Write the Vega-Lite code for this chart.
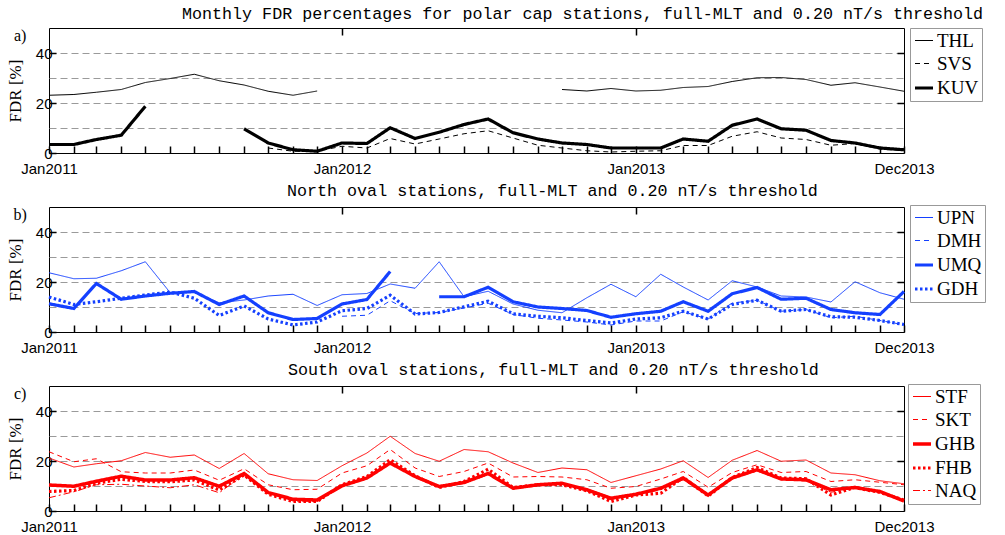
{
"$schema": "https://vega.github.io/schema/vega-lite/v6.json",
"background": "white",
"padding": {"left": 5, "top": 5, "right": 5, "bottom": 5},
"bounds": "flush",
"spacing": 54,
"datasets": {
"a": [
{"s":"THL","t":"2011-01-01","v":23.1},{"s":"THL","t":"2011-02-01","v":23.4},{"s":"THL","t":"2011-03-01","v":24.3},{"s":"THL","t":"2011-04-01","v":25.4},{"s":"THL","t":"2011-05-01","v":28.2},{"s":"THL","t":"2011-06-01","v":29.8},{"s":"THL","t":"2011-07-01","v":31.5},{"s":"THL","t":"2011-08-01","v":28.9},{"s":"THL","t":"2011-09-01","v":27.2},{"s":"THL","t":"2011-10-01","v":24.7},{"s":"THL","t":"2011-11-01","v":23.1},{"s":"THL","t":"2011-12-01","v":24.8},
{"s":"THL","t":"2012-01-01","v":null},{"s":"THL","t":"2012-02-01","v":null},{"s":"THL","t":"2012-03-01","v":null},{"s":"THL","t":"2012-04-01","v":null},{"s":"THL","t":"2012-05-01","v":null},{"s":"THL","t":"2012-06-01","v":null},{"s":"THL","t":"2012-07-01","v":null},{"s":"THL","t":"2012-08-01","v":null},{"s":"THL","t":"2012-09-01","v":null},{"s":"THL","t":"2012-10-01","v":25.4},{"s":"THL","t":"2012-11-01","v":24.8},{"s":"THL","t":"2012-12-01","v":25.8},
{"s":"THL","t":"2013-01-01","v":24.8},{"s":"THL","t":"2013-02-01","v":25.1},{"s":"THL","t":"2013-03-01","v":26.2},{"s":"THL","t":"2013-04-01","v":26.6},{"s":"THL","t":"2013-05-01","v":28.6},{"s":"THL","t":"2013-06-01","v":30.1},{"s":"THL","t":"2013-07-01","v":30.2},{"s":"THL","t":"2013-08-01","v":29.4},{"s":"THL","t":"2013-09-01","v":27.1},{"s":"THL","t":"2013-10-01","v":28.1},{"s":"THL","t":"2013-11-01","v":26.4},{"s":"THL","t":"2013-12-01","v":24.7},
{"s":"SVS","t":"2011-10-01","v":2.0},{"s":"SVS","t":"2011-11-01","v":0.7},{"s":"SVS","t":"2011-12-01","v":0.7},
{"s":"SVS","t":"2012-01-01","v":2.7},{"s":"SVS","t":"2012-02-01","v":2.0},{"s":"SVS","t":"2012-03-01","v":5.8},{"s":"SVS","t":"2012-04-01","v":3.6},{"s":"SVS","t":"2012-05-01","v":5.6},{"s":"SVS","t":"2012-06-01","v":7.7},{"s":"SVS","t":"2012-07-01","v":8.9},{"s":"SVS","t":"2012-08-01","v":6.0},{"s":"SVS","t":"2012-09-01","v":3.1},{"s":"SVS","t":"2012-10-01","v":2.0},{"s":"SVS","t":"2012-11-01","v":0.9},{"s":"SVS","t":"2012-12-01","v":0.4},
{"s":"SVS","t":"2013-01-01","v":0.7},{"s":"SVS","t":"2013-02-01","v":0.9},{"s":"SVS","t":"2013-03-01","v":3.0},{"s":"SVS","t":"2013-04-01","v":3.0},{"s":"SVS","t":"2013-05-01","v":6.7},{"s":"SVS","t":"2013-06-01","v":8.5},{"s":"SVS","t":"2013-07-01","v":6.0},{"s":"SVS","t":"2013-08-01","v":5.4},{"s":"SVS","t":"2013-09-01","v":3.1},{"s":"SVS","t":"2013-10-01","v":3.8},{"s":"SVS","t":"2013-11-01","v":1.6},{"s":"SVS","t":"2013-12-01","v":0.9},
{"s":"KUV","t":"2011-01-01","v":3.4},{"s":"KUV","t":"2011-02-01","v":3.4},{"s":"KUV","t":"2011-03-01","v":5.4},{"s":"KUV","t":"2011-04-01","v":7.1},{"s":"KUV","t":"2011-05-01","v":18.7},{"s":"KUV","t":"2011-06-01","v":null},{"s":"KUV","t":"2011-07-01","v":null},{"s":"KUV","t":"2011-08-01","v":null},{"s":"KUV","t":"2011-09-01","v":9.7},{"s":"KUV","t":"2011-10-01","v":4.0},{"s":"KUV","t":"2011-11-01","v":1.3},{"s":"KUV","t":"2011-12-01","v":0.7},
{"s":"KUV","t":"2012-01-01","v":4.0},{"s":"KUV","t":"2012-02-01","v":3.8},{"s":"KUV","t":"2012-03-01","v":10.1},{"s":"KUV","t":"2012-04-01","v":5.8},{"s":"KUV","t":"2012-05-01","v":8.3},{"s":"KUV","t":"2012-06-01","v":11.4},{"s":"KUV","t":"2012-07-01","v":13.6},{"s":"KUV","t":"2012-08-01","v":8.1},{"s":"KUV","t":"2012-09-01","v":5.6},{"s":"KUV","t":"2012-10-01","v":4.0},{"s":"KUV","t":"2012-11-01","v":3.4},{"s":"KUV","t":"2012-12-01","v":2.0},
{"s":"KUV","t":"2013-01-01","v":2.0},{"s":"KUV","t":"2013-02-01","v":2.0},{"s":"KUV","t":"2013-03-01","v":5.6},{"s":"KUV","t":"2013-04-01","v":4.7},{"s":"KUV","t":"2013-05-01","v":11.1},{"s":"KUV","t":"2013-06-01","v":13.6},{"s":"KUV","t":"2013-07-01","v":9.7},{"s":"KUV","t":"2013-08-01","v":9.1},{"s":"KUV","t":"2013-09-01","v":5.0},{"s":"KUV","t":"2013-10-01","v":4.0},{"s":"KUV","t":"2013-11-01","v":2.0},{"s":"KUV","t":"2013-12-01","v":1.3}
],
"b": [
{"s":"UPN","t":"2011-01-01","v":23.7},{"s":"UPN","t":"2011-02-01","v":21.3},{"s":"UPN","t":"2011-03-01","v":21.5},{"s":"UPN","t":"2011-04-01","v":24.5},{"s":"UPN","t":"2011-05-01","v":28.1},{"s":"UPN","t":"2011-06-01","v":15.7},{"s":"UPN","t":"2011-07-01","v":15.9},{"s":"UPN","t":"2011-08-01","v":11.7},{"s":"UPN","t":"2011-09-01","v":12.8},{"s":"UPN","t":"2011-10-01","v":14.4},{"s":"UPN","t":"2011-11-01","v":15.1},{"s":"UPN","t":"2011-12-01","v":10.6},
{"s":"UPN","t":"2012-01-01","v":14.9},{"s":"UPN","t":"2012-02-01","v":15.4},{"s":"UPN","t":"2012-03-01","v":19.2},{"s":"UPN","t":"2012-04-01","v":17.5},{"s":"UPN","t":"2012-05-01","v":28.1},{"s":"UPN","t":"2012-06-01","v":14.1},{"s":"UPN","t":"2012-07-01","v":16.3},{"s":"UPN","t":"2012-08-01","v":11.2},{"s":"UPN","t":"2012-09-01","v":8.7},{"s":"UPN","t":"2012-10-01","v":7.7},{"s":"UPN","t":"2012-11-01","v":13.7},{"s":"UPN","t":"2012-12-01","v":19.1},
{"s":"UPN","t":"2013-01-01","v":14.1},{"s":"UPN","t":"2013-02-01","v":23.1},{"s":"UPN","t":"2013-03-01","v":18.0},{"s":"UPN","t":"2013-04-01","v":12.8},{"s":"UPN","t":"2013-05-01","v":20.5},{"s":"UPN","t":"2013-06-01","v":18.0},{"s":"UPN","t":"2013-07-01","v":14.4},{"s":"UPN","t":"2013-08-01","v":14.0},{"s":"UPN","t":"2013-09-01","v":12.0},{"s":"UPN","t":"2013-10-01","v":20.1},{"s":"UPN","t":"2013-11-01","v":15.7},{"s":"UPN","t":"2013-12-01","v":13.1},
{"s":"DMH","t":"2012-01-01","v":6.3},{"s":"DMH","t":"2012-02-01","v":6.7},{"s":"DMH","t":"2012-03-01","v":12.5},{"s":"DMH","t":"2012-04-01","v":7.4},{"s":"DMH","t":"2012-05-01","v":7.8},{"s":"DMH","t":"2012-06-01","v":9.6},{"s":"DMH","t":"2012-07-01","v":11.5},{"s":"DMH","t":"2012-08-01","v":7.0},{"s":"DMH","t":"2012-09-01","v":5.5},{"s":"DMH","t":"2012-10-01","v":4.8},{"s":"DMH","t":"2012-11-01","v":4.0},{"s":"DMH","t":"2012-12-01","v":2.8},
{"s":"DMH","t":"2013-01-01","v":4.4},{"s":"DMH","t":"2013-02-01","v":4.4},{"s":"DMH","t":"2013-03-01","v":8.1},{"s":"DMH","t":"2013-04-01","v":5.2},{"s":"DMH","t":"2013-05-01","v":11.6},{"s":"DMH","t":"2013-06-01","v":12.7},{"s":"DMH","t":"2013-07-01","v":8.3},{"s":"DMH","t":"2013-08-01","v":9.0},{"s":"DMH","t":"2013-09-01","v":5.7},{"s":"DMH","t":"2013-10-01","v":6.3},{"s":"DMH","t":"2013-11-01","v":4.6},{"s":"DMH","t":"2013-12-01","v":2.9},
{"s":"UMQ","t":"2011-01-01","v":11.3},{"s":"UMQ","t":"2011-02-01","v":9.4},{"s":"UMQ","t":"2011-03-01","v":19.4},{"s":"UMQ","t":"2011-04-01","v":13.1},{"s":"UMQ","t":"2011-05-01","v":14.4},{"s":"UMQ","t":"2011-06-01","v":15.5},{"s":"UMQ","t":"2011-07-01","v":16.2},{"s":"UMQ","t":"2011-08-01","v":11.0},{"s":"UMQ","t":"2011-09-01","v":14.4},{"s":"UMQ","t":"2011-10-01","v":7.7},{"s":"UMQ","t":"2011-11-01","v":5.0},{"s":"UMQ","t":"2011-12-01","v":5.4},
{"s":"UMQ","t":"2012-01-01","v":11.2},{"s":"UMQ","t":"2012-02-01","v":13.0},{"s":"UMQ","t":"2012-03-01","v":24.2},{"s":"UMQ","t":"2012-04-01","v":null},{"s":"UMQ","t":"2012-05-01","v":14.1},{"s":"UMQ","t":"2012-06-01","v":14.1},{"s":"UMQ","t":"2012-07-01","v":17.9},{"s":"UMQ","t":"2012-08-01","v":12.1},{"s":"UMQ","t":"2012-09-01","v":10.0},{"s":"UMQ","t":"2012-10-01","v":9.4},{"s":"UMQ","t":"2012-11-01","v":8.6},{"s":"UMQ","t":"2012-12-01","v":5.9},
{"s":"UMQ","t":"2013-01-01","v":7.3},{"s":"UMQ","t":"2013-02-01","v":8.3},{"s":"UMQ","t":"2013-03-01","v":12.1},{"s":"UMQ","t":"2013-04-01","v":8.3},{"s":"UMQ","t":"2013-05-01","v":15.3},{"s":"UMQ","t":"2013-06-01","v":17.8},{"s":"UMQ","t":"2013-07-01","v":13.1},{"s":"UMQ","t":"2013-08-01","v":13.5},{"s":"UMQ","t":"2013-09-01","v":9.0},{"s":"UMQ","t":"2013-10-01","v":7.7},{"s":"UMQ","t":"2013-11-01","v":7.0},{"s":"UMQ","t":"2013-12-01","v":16.2},
{"s":"GDH","t":"2011-01-01","v":14.0},{"s":"GDH","t":"2011-02-01","v":11.0},{"s":"GDH","t":"2011-03-01","v":12.1},{"s":"GDH","t":"2011-04-01","v":13.5},{"s":"GDH","t":"2011-05-01","v":14.8},{"s":"GDH","t":"2011-06-01","v":16.0},{"s":"GDH","t":"2011-07-01","v":13.5},{"s":"GDH","t":"2011-08-01","v":6.6},{"s":"GDH","t":"2011-09-01","v":10.4},{"s":"GDH","t":"2011-10-01","v":5.2},{"s":"GDH","t":"2011-11-01","v":2.8},{"s":"GDH","t":"2011-12-01","v":4.0},
{"s":"GDH","t":"2012-01-01","v":8.5},{"s":"GDH","t":"2012-02-01","v":9.4},{"s":"GDH","t":"2012-03-01","v":14.7},{"s":"GDH","t":"2012-04-01","v":7.2},{"s":"GDH","t":"2012-05-01","v":7.8},{"s":"GDH","t":"2012-06-01","v":10.1},{"s":"GDH","t":"2012-07-01","v":12.3},{"s":"GDH","t":"2012-08-01","v":7.3},{"s":"GDH","t":"2012-09-01","v":6.3},{"s":"GDH","t":"2012-10-01","v":5.7},{"s":"GDH","t":"2012-11-01","v":4.6},{"s":"GDH","t":"2012-12-01","v":3.6},
{"s":"GDH","t":"2013-01-01","v":5.2},{"s":"GDH","t":"2013-02-01","v":5.7},{"s":"GDH","t":"2013-03-01","v":8.3},{"s":"GDH","t":"2013-04-01","v":5.2},{"s":"GDH","t":"2013-05-01","v":11.0},{"s":"GDH","t":"2013-06-01","v":12.7},{"s":"GDH","t":"2013-07-01","v":8.3},{"s":"GDH","t":"2013-08-01","v":9.0},{"s":"GDH","t":"2013-09-01","v":6.1},{"s":"GDH","t":"2013-10-01","v":5.9},{"s":"GDH","t":"2013-11-01","v":4.6},{"s":"GDH","t":"2013-12-01","v":3.0}
],
"c": [
{"s":"STF","t":"2011-01-01","v":21.2},{"s":"STF","t":"2011-02-01","v":17.6},{"s":"STF","t":"2011-03-01","v":18.9},{"s":"STF","t":"2011-04-01","v":20.1},{"s":"STF","t":"2011-05-01","v":23.4},{"s":"STF","t":"2011-06-01","v":21.5},{"s":"STF","t":"2011-07-01","v":22.4},{"s":"STF","t":"2011-08-01","v":17.0},{"s":"STF","t":"2011-09-01","v":23.0},{"s":"STF","t":"2011-10-01","v":14.9},{"s":"STF","t":"2011-11-01","v":12.5},{"s":"STF","t":"2011-12-01","v":12.2},
{"s":"STF","t":"2012-01-01","v":18.1},{"s":"STF","t":"2012-02-01","v":23.2},{"s":"STF","t":"2012-03-01","v":29.9},{"s":"STF","t":"2012-04-01","v":23.0},{"s":"STF","t":"2012-05-01","v":19.9},{"s":"STF","t":"2012-06-01","v":24.6},{"s":"STF","t":"2012-07-01","v":23.7},{"s":"STF","t":"2012-08-01","v":19.2},{"s":"STF","t":"2012-09-01","v":15.4},{"s":"STF","t":"2012-10-01","v":17.2},{"s":"STF","t":"2012-11-01","v":16.5},{"s":"STF","t":"2012-12-01","v":11.4},
{"s":"STF","t":"2013-01-01","v":14.1},{"s":"STF","t":"2013-02-01","v":16.8},{"s":"STF","t":"2013-03-01","v":20.1},{"s":"STF","t":"2013-04-01","v":13.4},{"s":"STF","t":"2013-05-01","v":20.3},{"s":"STF","t":"2013-06-01","v":24.2},{"s":"STF","t":"2013-07-01","v":19.9},{"s":"STF","t":"2013-08-01","v":20.4},{"s":"STF","t":"2013-09-01","v":15.2},{"s":"STF","t":"2013-10-01","v":14.5},{"s":"STF","t":"2013-11-01","v":12.1},{"s":"STF","t":"2013-12-01","v":10.9},
{"s":"SKT","t":"2011-01-01","v":23.7},{"s":"SKT","t":"2011-02-01","v":19.7},{"s":"SKT","t":"2011-03-01","v":20.9},{"s":"SKT","t":"2011-04-01","v":15.7},{"s":"SKT","t":"2011-05-01","v":15.2},{"s":"SKT","t":"2011-06-01","v":15.2},{"s":"SKT","t":"2011-07-01","v":16.4},{"s":"SKT","t":"2011-08-01","v":12.3},{"s":"SKT","t":"2011-09-01","v":16.9},{"s":"SKT","t":"2011-10-01","v":10.5},{"s":"SKT","t":"2011-11-01","v":8.5},{"s":"SKT","t":"2011-12-01","v":8.7},
{"s":"SKT","t":"2012-01-01","v":15.2},{"s":"SKT","t":"2012-02-01","v":18.1},{"s":"SKT","t":"2012-03-01","v":24.6},{"s":"SKT","t":"2012-04-01","v":17.2},{"s":"SKT","t":"2012-05-01","v":13.8},{"s":"SKT","t":"2012-06-01","v":15.8},{"s":"SKT","t":"2012-07-01","v":19.2},{"s":"SKT","t":"2012-08-01","v":13.6},{"s":"SKT","t":"2012-09-01","v":13.8},{"s":"SKT","t":"2012-10-01","v":13.6},{"s":"SKT","t":"2012-11-01","v":12.5},{"s":"SKT","t":"2012-12-01","v":9.1},
{"s":"SKT","t":"2013-01-01","v":9.8},{"s":"SKT","t":"2013-02-01","v":12.8},{"s":"SKT","t":"2013-03-01","v":15.8},{"s":"SKT","t":"2013-04-01","v":9.5},{"s":"SKT","t":"2013-05-01","v":15.4},{"s":"SKT","t":"2013-06-01","v":18.5},{"s":"SKT","t":"2013-07-01","v":15.4},{"s":"SKT","t":"2013-08-01","v":15.8},{"s":"SKT","t":"2013-09-01","v":11.8},{"s":"SKT","t":"2013-10-01","v":12.5},{"s":"SKT","t":"2013-11-01","v":11.5},{"s":"SKT","t":"2013-12-01","v":10.5},
{"s":"GHB","t":"2011-01-01","v":10.4},{"s":"GHB","t":"2011-02-01","v":9.9},{"s":"GHB","t":"2011-03-01","v":11.9},{"s":"GHB","t":"2011-04-01","v":13.9},{"s":"GHB","t":"2011-05-01","v":12.4},{"s":"GHB","t":"2011-06-01","v":12.4},{"s":"GHB","t":"2011-07-01","v":13.3},{"s":"GHB","t":"2011-08-01","v":9.9},{"s":"GHB","t":"2011-09-01","v":15.0},{"s":"GHB","t":"2011-10-01","v":7.4},{"s":"GHB","t":"2011-11-01","v":4.7},{"s":"GHB","t":"2011-12-01","v":4.4},
{"s":"GHB","t":"2012-01-01","v":10.1},{"s":"GHB","t":"2012-02-01","v":13.2},{"s":"GHB","t":"2012-03-01","v":19.2},{"s":"GHB","t":"2012-04-01","v":13.8},{"s":"GHB","t":"2012-05-01","v":9.8},{"s":"GHB","t":"2012-06-01","v":11.4},{"s":"GHB","t":"2012-07-01","v":15.0},{"s":"GHB","t":"2012-08-01","v":9.1},{"s":"GHB","t":"2012-09-01","v":10.5},{"s":"GHB","t":"2012-10-01","v":11.1},{"s":"GHB","t":"2012-11-01","v":8.5},{"s":"GHB","t":"2012-12-01","v":5.1},
{"s":"GHB","t":"2013-01-01","v":6.7},{"s":"GHB","t":"2013-02-01","v":9.1},{"s":"GHB","t":"2013-03-01","v":13.2},{"s":"GHB","t":"2013-04-01","v":6.4},{"s":"GHB","t":"2013-05-01","v":13.2},{"s":"GHB","t":"2013-06-01","v":16.5},{"s":"GHB","t":"2013-07-01","v":12.8},{"s":"GHB","t":"2013-08-01","v":12.5},{"s":"GHB","t":"2013-09-01","v":8.5},{"s":"GHB","t":"2013-10-01","v":9.4},{"s":"GHB","t":"2013-11-01","v":7.8},{"s":"GHB","t":"2013-12-01","v":4.0},
{"s":"FHB","t":"2011-01-01","v":7.8},{"s":"FHB","t":"2011-02-01","v":8.2},{"s":"FHB","t":"2011-03-01","v":11.1},{"s":"FHB","t":"2011-04-01","v":12.7},{"s":"FHB","t":"2011-05-01","v":11.8},{"s":"FHB","t":"2011-06-01","v":11.7},{"s":"FHB","t":"2011-07-01","v":12.4},{"s":"FHB","t":"2011-08-01","v":8.4},{"s":"FHB","t":"2011-09-01","v":14.4},{"s":"FHB","t":"2011-10-01","v":6.7},{"s":"FHB","t":"2011-11-01","v":3.8},{"s":"FHB","t":"2011-12-01","v":3.8},
{"s":"FHB","t":"2012-01-01","v":10.5},{"s":"FHB","t":"2012-02-01","v":13.8},{"s":"FHB","t":"2012-03-01","v":20.5},{"s":"FHB","t":"2012-04-01","v":14.1},{"s":"FHB","t":"2012-05-01","v":9.4},{"s":"FHB","t":"2012-06-01","v":11.8},{"s":"FHB","t":"2012-07-01","v":16.7},{"s":"FHB","t":"2012-08-01","v":9.4},{"s":"FHB","t":"2012-09-01","v":10.5},{"s":"FHB","t":"2012-10-01","v":10.5},{"s":"FHB","t":"2012-11-01","v":8.1},{"s":"FHB","t":"2012-12-01","v":3.8},
{"s":"FHB","t":"2013-01-01","v":6.4},{"s":"FHB","t":"2013-02-01","v":7.1},{"s":"FHB","t":"2013-03-01","v":13.4},{"s":"FHB","t":"2013-04-01","v":6.0},{"s":"FHB","t":"2013-05-01","v":13.4},{"s":"FHB","t":"2013-06-01","v":17.4},{"s":"FHB","t":"2013-07-01","v":13.2},{"s":"FHB","t":"2013-08-01","v":12.9},{"s":"FHB","t":"2013-09-01","v":6.4},{"s":"FHB","t":"2013-10-01","v":9.4},{"s":"FHB","t":"2013-11-01","v":7.4},{"s":"FHB","t":"2013-12-01","v":4.4},
{"s":"NAQ","t":"2011-01-01","v":5.3},{"s":"NAQ","t":"2011-02-01","v":7.7},{"s":"NAQ","t":"2011-03-01","v":10.5},{"s":"NAQ","t":"2011-04-01","v":10.7},{"s":"NAQ","t":"2011-05-01","v":10.0},{"s":"NAQ","t":"2011-06-01","v":9.3},{"s":"NAQ","t":"2011-07-01","v":10.5},{"s":"NAQ","t":"2011-08-01","v":7.3},{"s":"NAQ","t":"2011-09-01","v":14.6},{"s":"NAQ","t":"2011-10-01","v":7.4},{"s":"NAQ","t":"2011-11-01","v":4.0},{"s":"NAQ","t":"2011-12-01","v":3.8},
{"s":"NAQ","t":"2012-01-01","v":9.8},{"s":"NAQ","t":"2012-02-01","v":12.8},{"s":"NAQ","t":"2012-03-01","v":19.9},{"s":"NAQ","t":"2012-04-01","v":13.5},{"s":"NAQ","t":"2012-05-01","v":9.5},{"s":"NAQ","t":"2012-06-01","v":11.0},{"s":"NAQ","t":"2012-07-01","v":14.5},{"s":"NAQ","t":"2012-08-01","v":9.0},{"s":"NAQ","t":"2012-09-01","v":10.3},{"s":"NAQ","t":"2012-10-01","v":10.5},{"s":"NAQ","t":"2012-11-01","v":8.0},{"s":"NAQ","t":"2012-12-01","v":4.5},
{"s":"NAQ","t":"2013-01-01","v":6.5},{"s":"NAQ","t":"2013-02-01","v":8.5},{"s":"NAQ","t":"2013-03-01","v":12.5},{"s":"NAQ","t":"2013-04-01","v":6.2},{"s":"NAQ","t":"2013-05-01","v":12.8},{"s":"NAQ","t":"2013-06-01","v":16.0},{"s":"NAQ","t":"2013-07-01","v":12.5},{"s":"NAQ","t":"2013-08-01","v":12.0},{"s":"NAQ","t":"2013-09-01","v":7.5},{"s":"NAQ","t":"2013-10-01","v":9.3},{"s":"NAQ","t":"2013-11-01","v":7.6},{"s":"NAQ","t":"2013-12-01","v":4.2}
]
},
"vconcat": [
{
"data": {"name": "a"},
"width": 855, "height": 125,
"title": {"text": "Monthly FDR percentages for polar cap stations, full-MLT and 0.20 nT/s threshold", "dx": 133},
"layer": [
{"mark": {"type": "line"},
 "encoding": {
  "x": {"field": "t", "type": "temporal", "title": null, "scale": {"type": "utc", "domain": [{"year": 2011, "month": 1, "date": 1, "utc": true}, {"year": 2013, "month": 12, "date": 1, "utc": true}]},
   "axis": {"orient": "bottom", "offset": -7, "tickSize": 7, "tickColor": "#000000", "tickWidth": 1.5, "tickCount": {"interval": "month", "step": 1}, "labelExpr": "utcmonth(datum.value) == 0 || (utcyear(datum.value) == 2013 && utcmonth(datum.value) == 11) ? utcFormat(datum.value, '%b%Y') : ''", "labelOverlap": false, "labelFlush": false, "labelPadding": 8, "domain": false, "grid": false}},
  "y": {"field": "v", "type": "quantitative", "title": "FDR [%]", "scale": {"domain": [0, 50]},
   "axis": {"orient": "left", "tickSize": -7, "tickColor": "#000000", "tickWidth": 1.5, "values": [0, 10, 20, 30, 40], "labelExpr": "datum.value % 20 === 0 ? datum.label : ''", "labelPadding": 4, "domain": false, "grid": true, "gridColor": "#9a9a9a", "gridDash": [7, 4], "gridOpacity": {"condition": {"test": "datum.value === 0", "value": 0}, "value": 1}, "tickOpacity": {"condition": {"test": "datum.value % 20 !== 0", "value": 0}, "value": 1}, "titlePadding": 11}},
  "color": {"field": "s", "type": "nominal", "scale": {"domain": ["THL", "SVS", "KUV"], "range": ["black", "black", "black"]}, "legend": {"orient": "none", "legendX": 861, "legendY": 0, "title": null}},
  "strokeDash": {"field": "s", "type": "nominal", "scale": {"domain": ["THL", "SVS", "KUV"], "range": [[1, 0], [5, 4], [1, 0]]}, "legend": {"orient": "none", "legendX": 861, "legendY": 0, "title": null}},
  "strokeWidth": {"field": "s", "type": "nominal", "scale": {"type": "ordinal", "domain": ["THL", "SVS", "KUV"], "range": [1, 1, 3.2]}, "legend": {"orient": "none", "legendX": 861, "legendY": 0, "title": null}}
 }},
{"mark": {"type": "point", "opacity": 0},
 "encoding": {
  "x": {"field": "t", "type": "temporal", "title": null, "axis": {"orient": "top", "offset": -7, "tickSize": 7, "tickColor": "#000000", "tickWidth": 1.5, "values": [{"year": 2012, "month": 1, "date": 1, "utc": true}, {"year": 2013, "month": 1, "date": 1, "utc": true}], "labels": false, "domain": false, "grid": false}},
  "y": {"field": "v", "type": "quantitative", "title": null, "axis": {"orient": "right", "offset": -7, "tickSize": 7, "tickColor": "#000000", "tickWidth": 1.5, "values": [20, 40], "labels": false, "domain": false, "grid": false}}
 }},
{"data": {"values": [{"lab": "a)"}]},
 "mark": {"type": "text", "font": "Liberation Serif", "fontSize": 16, "align": "center", "baseline": "middle", "color": "black"},
 "encoding": {
  "x": {"datum": {"year": 2010, "month": 11, "date": 26, "utc": true}, "type": "temporal", "axis": null},
  "y": {"datum": 46.8, "type": "quantitative", "axis": null},
  "text": {"field": "lab"}
 }}
],
"resolve": {"axis": {"x": "independent", "y": "independent"}}
},
{
"data": {"name": "b"},
"width": 855, "height": 125,
"title": {"text": "North oval stations, full-MLT and 0.20 nT/s threshold", "dx": 238},
"layer": [
{"mark": {"type": "line"},
 "encoding": {
  "x": {"field": "t", "type": "temporal", "title": null, "scale": {"type": "utc", "domain": [{"year": 2011, "month": 1, "date": 1, "utc": true}, {"year": 2013, "month": 12, "date": 1, "utc": true}]},
   "axis": {"orient": "bottom", "offset": -7, "tickSize": 7, "tickColor": "#000000", "tickWidth": 1.5, "tickCount": {"interval": "month", "step": 1}, "labelExpr": "utcmonth(datum.value) == 0 || (utcyear(datum.value) == 2013 && utcmonth(datum.value) == 11) ? utcFormat(datum.value, '%b%Y') : ''", "labelOverlap": false, "labelFlush": false, "labelPadding": 8, "domain": false, "grid": false}},
  "y": {"field": "v", "type": "quantitative", "title": "FDR [%]", "scale": {"domain": [0, 50]},
   "axis": {"orient": "left", "tickSize": -7, "tickColor": "#000000", "tickWidth": 1.5, "values": [0, 10, 20, 30, 40], "labelExpr": "datum.value % 20 === 0 ? datum.label : ''", "labelPadding": 4, "domain": false, "grid": true, "gridColor": "#9a9a9a", "gridDash": [7, 4], "gridOpacity": {"condition": {"test": "datum.value === 0", "value": 0}, "value": 1}, "tickOpacity": {"condition": {"test": "datum.value % 20 !== 0", "value": 0}, "value": 1}, "titlePadding": 11}},
  "color": {"field": "s", "type": "nominal", "scale": {"domain": ["UPN", "DMH", "UMQ", "GDH"], "range": ["#1440ff", "#1440ff", "#1440ff", "#1440ff"]}, "legend": {"orient": "none", "legendX": 861, "legendY": -2, "title": null}},
  "strokeDash": {"field": "s", "type": "nominal", "scale": {"domain": ["UPN", "DMH", "UMQ", "GDH"], "range": [[1, 0], [5, 4], [1, 0], [2.5, 2.5]]}, "legend": {"orient": "none", "legendX": 861, "legendY": -2, "title": null}},
  "strokeWidth": {"field": "s", "type": "nominal", "scale": {"type": "ordinal", "domain": ["UPN", "DMH", "UMQ", "GDH"], "range": [1, 1, 3.2, 3.2]}, "legend": {"orient": "none", "legendX": 861, "legendY": -2, "title": null}}
 }},
{"mark": {"type": "point", "opacity": 0},
 "encoding": {
  "x": {"field": "t", "type": "temporal", "title": null, "axis": {"orient": "top", "offset": -7, "tickSize": 7, "tickColor": "#000000", "tickWidth": 1.5, "values": [{"year": 2012, "month": 1, "date": 1, "utc": true}, {"year": 2013, "month": 1, "date": 1, "utc": true}], "labels": false, "domain": false, "grid": false}},
  "y": {"field": "v", "type": "quantitative", "title": null, "axis": {"orient": "right", "offset": -7, "tickSize": 7, "tickColor": "#000000", "tickWidth": 1.5, "values": [20, 40], "labels": false, "domain": false, "grid": false}}
 }},
{"data": {"values": [{"lab": "b)"}]},
 "mark": {"type": "text", "font": "Liberation Serif", "fontSize": 16, "align": "center", "baseline": "middle", "color": "black"},
 "encoding": {
  "x": {"datum": {"year": 2010, "month": 11, "date": 26, "utc": true}, "type": "temporal", "axis": null},
  "y": {"datum": 46.8, "type": "quantitative", "axis": null},
  "text": {"field": "lab"}
 }}
],
"resolve": {"axis": {"x": "independent", "y": "independent"}}
},
{
"data": {"name": "c"},
"width": 855, "height": 125,
"title": {"text": "South oval stations, full-MLT and 0.20 nT/s threshold", "dx": 239},
"layer": [
{"mark": {"type": "line"},
 "encoding": {
  "x": {"field": "t", "type": "temporal", "title": null, "scale": {"type": "utc", "domain": [{"year": 2011, "month": 1, "date": 1, "utc": true}, {"year": 2013, "month": 12, "date": 1, "utc": true}]},
   "axis": {"orient": "bottom", "offset": -7, "tickSize": 7, "tickColor": "#000000", "tickWidth": 1.5, "tickCount": {"interval": "month", "step": 1}, "labelExpr": "utcmonth(datum.value) == 0 || (utcyear(datum.value) == 2013 && utcmonth(datum.value) == 11) ? utcFormat(datum.value, '%b%Y') : ''", "labelOverlap": false, "labelFlush": false, "labelPadding": 8, "domain": false, "grid": false}},
  "y": {"field": "v", "type": "quantitative", "title": "FDR [%]", "scale": {"domain": [0, 50]},
   "axis": {"orient": "left", "tickSize": -7, "tickColor": "#000000", "tickWidth": 1.5, "values": [0, 10, 20, 30, 40], "labelExpr": "datum.value % 20 === 0 ? datum.label : ''", "labelPadding": 4, "domain": false, "grid": true, "gridColor": "#9a9a9a", "gridDash": [7, 4], "gridOpacity": {"condition": {"test": "datum.value === 0", "value": 0}, "value": 1}, "tickOpacity": {"condition": {"test": "datum.value % 20 !== 0", "value": 0}, "value": 1}, "titlePadding": 11}},
  "color": {"field": "s", "type": "nominal", "scale": {"domain": ["STF", "SKT", "GHB", "FHB", "NAQ"], "range": ["#ff0000", "#ff0000", "#ff0000", "#ff0000", "#ff0000"]}, "legend": {"orient": "none", "legendX": 859, "legendY": -2, "title": null}},
  "strokeDash": {"field": "s", "type": "nominal", "scale": {"domain": ["STF", "SKT", "GHB", "FHB", "NAQ"], "range": [[1, 0], [5, 4], [1, 0], [2.5, 2.5], [7, 3, 2, 3]]}, "legend": {"orient": "none", "legendX": 859, "legendY": -2, "title": null}},
  "strokeWidth": {"field": "s", "type": "nominal", "scale": {"type": "ordinal", "domain": ["STF", "SKT", "GHB", "FHB", "NAQ"], "range": [1, 1, 3.5, 3.2, 1]}, "legend": {"orient": "none", "legendX": 859, "legendY": -2, "title": null}}
 }},
{"mark": {"type": "point", "opacity": 0},
 "encoding": {
  "x": {"field": "t", "type": "temporal", "title": null, "axis": {"orient": "top", "offset": -7, "tickSize": 7, "tickColor": "#000000", "tickWidth": 1.5, "values": [{"year": 2012, "month": 1, "date": 1, "utc": true}, {"year": 2013, "month": 1, "date": 1, "utc": true}], "labels": false, "domain": false, "grid": false}},
  "y": {"field": "v", "type": "quantitative", "title": null, "axis": {"orient": "right", "offset": -7, "tickSize": 7, "tickColor": "#000000", "tickWidth": 1.5, "values": [20, 40], "labels": false, "domain": false, "grid": false}}
 }},
{"data": {"values": [{"lab": "c)"}]},
 "mark": {"type": "text", "font": "Liberation Serif", "fontSize": 16, "align": "center", "baseline": "middle", "color": "black"},
 "encoding": {
  "x": {"datum": {"year": 2010, "month": 11, "date": 26, "utc": true}, "type": "temporal", "axis": null},
  "y": {"datum": 46.8, "type": "quantitative", "axis": null},
  "text": {"field": "lab"}
 }}
],
"resolve": {"axis": {"x": "independent", "y": "independent"}}
}
],
"resolve": {"scale": {"color": "independent", "strokeDash": "independent", "strokeWidth": "independent"}, "legend": {"color": "independent", "strokeDash": "independent", "strokeWidth": "independent"}},
"config": {
 "view": {"stroke": "black", "strokeWidth": 1},
 "axis": {"labelFont": "Liberation Sans", "labelFontSize": 15, "labelColor": "black", "titleFont": "Liberation Serif", "titleFontSize": 17, "titleFontWeight": "normal", "titleColor": "black"},
 "title": {"font": "Liberation Mono", "fontSize": 16.7, "fontWeight": "normal", "anchor": "start", "frame": "group", "offset": 5, "color": "black"},
 "legend": {"labelFont": "Liberation Serif", "labelFontSize": 19, "labelColor": "black", "symbolType": "stroke", "symbolSize": 324, "padding": 3, "rowPadding": 3, "labelOffset": 2, "strokeColor": "#999999", "fillColor": "white", "cornerRadius": 0},
 "line": {"strokeJoin": "miter", "strokeCap": "butt"}
}
}
